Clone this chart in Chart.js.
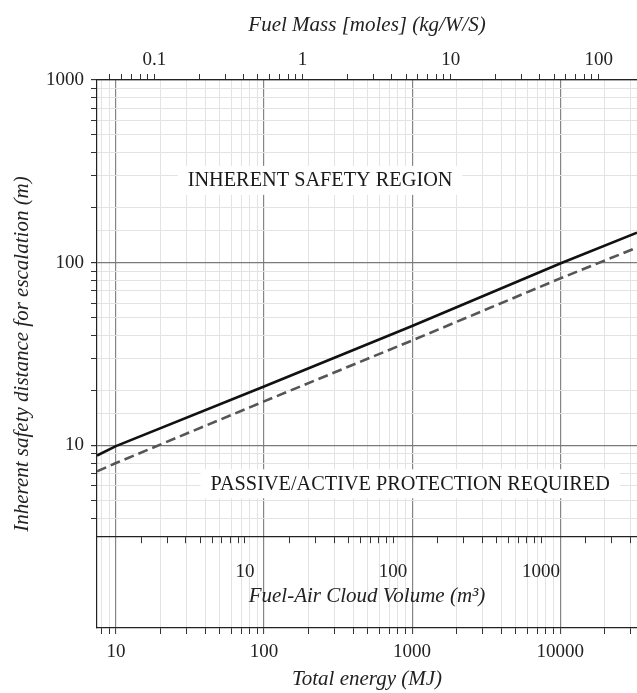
<!DOCTYPE html>
<html>
<head>
<meta charset="utf-8">
<script src="https://cdn.jsdelivr.net/npm/chart.js@4/dist/chart.umd.min.js"></script>
<style>
  html, body { margin: 0; padding: 0; background: #fff; }
  canvas { display: block; }
</style>
</head>
<body>
<canvas id="chart" width="637" height="693"></canvas>
<script>
// total energy (MJ) and the two escalation distance curves (m)
const energy = [7.45, 10, 100, 1000, 10000, 33000];
const distanceSolid = [8.8, 9.9, 21, 45, 99, 146];
const distanceDashed = [7.2, 8.0, 17.4, 37.5, 82, 121];

// axis ranges and the secondary axis conversions
const energyRange = [7.45, 33000];
const distanceRange = [1, 1000];
const energyPerKg = 182;      // fuel mass axis
const energyPerM3 = 7.43;     // fuel-air cloud volume axis
const volumeAxisAt = 3.16;    // distance where the volume axis sits

const serif = 'Liberation Serif';
const tickFont = { family: serif, size: 19 };
const titleFont = { family: serif, size: 21, style: 'italic' };

function isDecade(v) {
  const e = Math.log10(v);
  return Math.abs(e - Math.round(e)) < 1e-6;
}
function isWholeStep(v) {
  const m = v / Math.pow(10, Math.floor(Math.log10(v) + 1e-9));
  return Math.abs(m - Math.round(m)) < 1e-6;
}
function decadeLabel(v) {
  return isDecade(v) ? String(Number(v.toPrecision(3))) : '';
}

// fixed band heights, and no extra side padding so the plot runs to the edge
function fixHeight(h) {
  return s => { s.height = h; s.paddingLeft = 0; s.paddingRight = 0; };
}

const tickStyle = {
  tickLength: 6,
  tickWidth: 1,
  tickColor: c => isWholeStep(c.tick.value) ? '#333' : 'rgba(0,0,0,0)'
};

// white boxed region labels, drawn under the curves
const regionLabels = {
  id: 'regionLabels',
  beforeDatasetsDraw(chart) {
    const { ctx, scales } = chart;
    const items = [
      { text: 'INHERENT SAFETY REGION', x: 239, y: 284 },
      { text: 'PASSIVE/ACTIVE PROTECTION REQUIRED', x: 970, y: 6.2 }
    ];
    ctx.save();
    ctx.font = '20.3px "Liberation Serif"';
    ctx.textAlign = 'center';
    ctx.textBaseline = 'middle';
    items.forEach(it => {
      const px = scales.x.getPixelForValue(it.x);
      const py = scales.y.getPixelForValue(it.y);
      const w = ctx.measureText(it.text).width;
      ctx.fillStyle = '#fff';
      ctx.fillRect(px - w / 2 - 10, py - 14, w + 20, 29);
      ctx.fillStyle = '#1a1a1a';
      ctx.fillText(it.text, px, py + 1);
    });
    ctx.restore();
  }
};

new Chart(document.getElementById('chart'), {
  type: 'line',
  data: {
    datasets: [
      {
        data: energy.map((e, i) => ({ x: e, y: distanceSolid[i] })),
        borderColor: '#111',
        borderWidth: 2.6,
        pointRadius: 0,
        xAxisID: 'x',
        yAxisID: 'y'
      },
      {
        data: energy.map((e, i) => ({ x: e, y: distanceDashed[i] })),
        borderColor: '#555',
        borderWidth: 2.6,
        borderDash: [10, 5],
        pointRadius: 0,
        xAxisID: 'x',
        yAxisID: 'y'
      }
    ]
  },
  options: {
    responsive: false,
    animation: false,
    layout: { padding: 0 },
    plugins: { legend: { display: false }, tooltip: { enabled: false } },
    scales: {
      x: {
        type: 'logarithmic',
        axis: 'x',
        position: 'bottom',
        min: energyRange[0],
        max: energyRange[1],
        afterFit: fixHeight(65),
        border: { color: '#222', width: 1.2 },
        grid: {
          ...tickStyle,
          color: c => !isWholeStep(c.tick.value) ? 'rgba(0,0,0,0)' :
            (isDecade(c.tick.value) ? '#858585' : '#e3e3e3'),
          lineWidth: c => isDecade(c.tick.value) ? 1.2 : 1
        },
        ticks: { autoSkip: false, maxRotation: 0, padding: 6.6, color: '#222', font: tickFont, callback: decadeLabel },
        title: { display: true, text: 'Total energy (MJ)', color: '#222', font: titleFont, padding: { top: 0, bottom: 0.5 } }
      },
      y: {
        type: 'logarithmic',
        axis: 'y',
        position: 'left',
        min: distanceRange[0],
        max: distanceRange[1],
        afterFit: s => { s.width = 97; },
        border: { color: '#222', width: 1.2 },
        grid: {
          tickLength: 6,
          tickColor: c => (c.tick.value < volumeAxisAt || !isWholeStep(c.tick.value)) ? 'rgba(0,0,0,0)' : '#333',
          color: c => c.tick.value < volumeAxisAt ? 'rgba(0,0,0,0)' :
            (isDecade(c.tick.value) ? '#7a7a7a' : '#e3e3e3'),
          lineWidth: c => isDecade(c.tick.value) ? 1.2 : 1
        },
        ticks: { autoSkip: false, padding: 7, color: '#222', font: tickFont,
          callback: v => v < volumeAxisAt ? '' : decadeLabel(v) },
        title: { display: true, text: 'Inherent safety distance for escalation (m)', color: '#222', font: titleFont, padding: { top: 9.4, bottom: 0 } }
      },
      mass: {
        type: 'logarithmic',
        axis: 'x',
        position: 'top',
        min: energyRange[0] / energyPerKg,
        max: energyRange[1] / energyPerKg,
        afterFit: fixHeight(80),
        border: { color: '#222', width: 1.2 },
        grid: { ...tickStyle, drawOnChartArea: false },
        ticks: { autoSkip: false, maxRotation: 0, padding: 2.6, color: '#222', font: tickFont, callback: decadeLabel },
        title: { display: true, text: 'Fuel Mass [moles] (kg/W/S)', color: '#222', font: titleFont, padding: { top: 12.4, bottom: 0 } }
      },
      volume: {
        type: 'logarithmic',
        axis: 'x',
        position: { y: volumeAxisAt },
        min: energyRange[0] / energyPerM3,
        max: energyRange[1] / energyPerM3,
        afterFit: fixHeight(72),
        border: { color: '#222', width: 1.2 },
        grid: { ...tickStyle, drawOnChartArea: false },
        ticks: { autoSkip: false, maxRotation: 0, padding: 17.6, color: '#222', font: tickFont, callback: decadeLabel },
        title: { display: true, text: 'Fuel-Air Cloud Volume (m³)', color: '#222', font: titleFont, padding: { top: 0, bottom: 0 } }
      }
    }
  },
  plugins: [regionLabels]
});
</script>
</body>
</html>
